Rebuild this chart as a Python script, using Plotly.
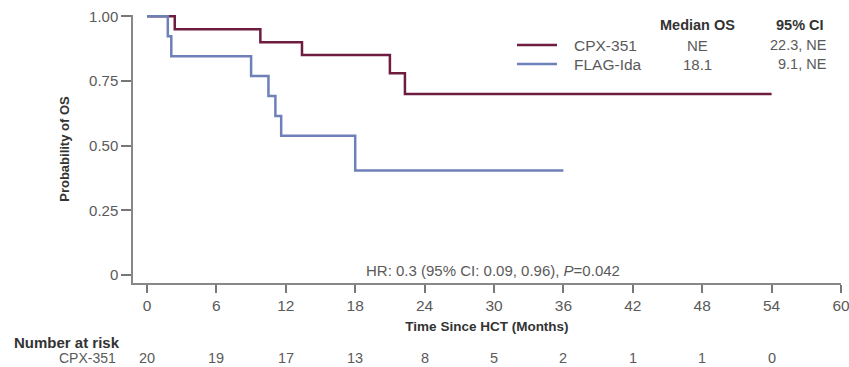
import plotly.graph_objects as go

# ---- data ----
cpx_times = [0, 2.4, 9.8, 13.4, 21.0, 22.3, 54]
cpx_surv = [1.0, 0.95, 0.90, 0.85, 0.78, 0.70, 0.70]
flag_times = [0, 1.8, 2.1, 9.0, 10.5, 11.1, 11.6, 18.0, 36]
flag_surv = [1.0, 0.923, 0.846, 0.769, 0.692, 0.615, 0.538, 0.404, 0.404]

x_ticks = [0, 6, 12, 18, 24, 30, 36, 42, 48, 54, 60]
y_ticks = [0, 0.25, 0.5, 0.75, 1.0]
y_tick_labels = ["0", "0.25", "0.50", "0.75", "1.00"]

risk_months = [0, 6, 12, 18, 24, 30, 36, 42, 48, 54]
risk_cpx = [20, 19, 17, 13, 8, 5, 2, 1, 1, 0]

legend_names = ["CPX-351", "FLAG-Ida"]
legend_median = ["NE", "18.1"]
legend_ci = ["22.3, NE", "9.1, NE"]

CPX_COLOR = "#6e1c40"
FLAG_COLOR = "#6d80b8"
TXT = "#5a5a5a"
DARK = "#333333"
FONT = "Liberation Sans Narrow, Liberation Sans, Arial"

fig = go.Figure()
fig.add_trace(go.Scatter(x=cpx_times, y=cpx_surv, mode="lines", line_shape="hv",
                         line=dict(color=CPX_COLOR, width=2.5), showlegend=False))
fig.add_trace(go.Scatter(x=flag_times, y=flag_surv, mode="lines", line_shape="hv",
                         line=dict(color=FLAG_COLOR, width=2.5), showlegend=False))

W, H = 849, 367
L, R, T, B = 133, 8, 15, 84

def px(xp):
    return (xp - L) / (W - L - R)

def py(yp):
    return (H - B - yp) / (H - T - B)

annotations = []
shapes = []
colors = [CPX_COLOR, FLAG_COLOR]
rows_y = [45, 64]
for i in range(2):
    shapes.append(dict(type="line", xref="paper", yref="paper",
                       x0=px(517), x1=px(557), y0=py(rows_y[i]), y1=py(rows_y[i]),
                       line=dict(color=colors[i], width=2.5)))
    annotations.append(dict(xref="paper", yref="paper", x=px(572), y=py(rows_y[i]),
                            text=legend_names[i], showarrow=False, xanchor="left",
                            yanchor="middle", font=dict(size=15.5, color=TXT, family=FONT)))
    annotations.append(dict(xref="paper", yref="paper", x=px(697), y=py(rows_y[i]),
                            text=legend_median[i], showarrow=False, xanchor="center",
                            yanchor="middle", font=dict(size=15, color=TXT, family=FONT)))
    annotations.append(dict(xref="paper", yref="paper", x=px(829), y=py(rows_y[i]),
                            text=legend_ci[i], showarrow=False, xanchor="right",
                            yanchor="middle", font=dict(size=14.5, color=TXT, family=FONT)))
annotations.append(dict(xref="paper", yref="paper", x=px(697), y=py(25),
                        text="<b>Median OS</b>", showarrow=False, xanchor="center",
                        yanchor="middle", font=dict(size=14.5, color=DARK, family=FONT)))
annotations.append(dict(xref="paper", yref="paper", x=px(826), y=py(25),
                        text="<b>95% CI</b>", showarrow=False, xanchor="right",
                        yanchor="middle", font=dict(size=14.5, color=DARK, family=FONT)))

annotations.append(dict(xref="paper", yref="paper", x=px(493), y=py(270),
                        text="HR: 0.3 (95% CI: 0.09, 0.96), <i>P</i>=0.042", showarrow=False,
                        xanchor="center", yanchor="middle",
                        font=dict(size=15, color=TXT, family=FONT)))

annotations.append(dict(xref="paper", yref="paper", x=px(12), y=py(342),
                        text="<b>Number at risk</b>", showarrow=False, xanchor="left",
                        yanchor="middle", font=dict(size=15, color=DARK, family=FONT)))
annotations.append(dict(xref="paper", yref="paper", x=px(118), y=py(358),
                        text="CPX-351", showarrow=False, xanchor="right",
                        yanchor="middle", font=dict(size=14, color=TXT, family=FONT)))
for m, n in zip(risk_months, risk_cpx):
    annotations.append(dict(xref="x", yref="paper", x=m, y=py(358), text=str(n),
                            showarrow=False, xanchor="center", yanchor="middle",
                            font=dict(size=14.5, color=TXT, family=FONT)))

fig.update_layout(
    width=W, height=H,
    margin=dict(l=L, r=R, t=T, b=B, pad=0, autoexpand=False),
    paper_bgcolor="white", plot_bgcolor="white",
    font=dict(family=FONT, color=TXT, size=15),
    annotations=annotations, shapes=shapes,
    xaxis=dict(range=[-1.21, 60], tickvals=x_ticks, ticks="outside", ticklen=8,
               tickcolor="#777777", tickwidth=1.5, showline=True, linecolor="#888888",
               linewidth=1.5, showgrid=False, zeroline=False, ticklabeloverflow="allow",
               automargin=False,
               tickfont=dict(size=15.5, color=TXT, family=FONT),
               title=dict(text="<b>Time Since HCT (Months)</b>", standoff=8,
                          font=dict(size=13.5, color=DARK, family=FONT))),
    yaxis=dict(range=[-0.031, 1.005], tickvals=y_ticks, ticktext=y_tick_labels,
               ticks="outside", ticklen=10, tickcolor="#777777", tickwidth=1.5,
               showline=True, linecolor="#888888", linewidth=1.5, showgrid=False,
               zeroline=False, automargin=False,
               tickfont=dict(size=15, color=TXT, family=FONT),
               title=dict(text="<b>Probability of OS</b>", standoff=16,
                          font=dict(size=13, color=DARK, family=FONT))),
)

fig.write_html("out.html")
